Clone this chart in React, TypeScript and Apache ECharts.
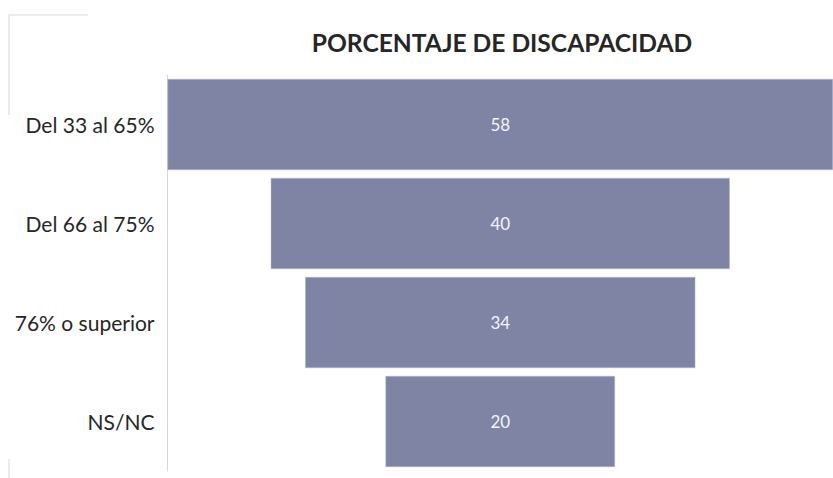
import React, { useEffect, useRef } from "react";
import * as echarts from "echarts";

const categories = ["Del 33 al 65%", "Del 66 al 75%", "76% o superior", "NS/NC"];
const values = [58, 40, 34, 20];
const maxValue = 58;
const titleText = "PORCENTAJE DE DISCAPACIDAD";

export default function App() {
  const ref = useRef<HTMLDivElement>(null);
  useEffect(() => {
    if (!ref.current) return;
    const chart = echarts.init(ref.current, undefined, { renderer: "svg" });
    const offsets = values.map((v) => (maxValue - v) / 2);
    chart.setOption({
      animation: false,
      backgroundColor: "#ffffff",
      title: {
        text: titleText,
        left: 497,
        textAlign: "center",
        top: 25,
        textStyle: { fontFamily: "Lato", fontWeight: "bold", fontSize: 24.6, color: "#262626" },
      },
      grid: { left: 167.5, right: 0, top: 75, height: 396, containLabel: false },
      xAxis: {
        type: "value",
        min: 0,
        max: maxValue,
        show: false,
      },
      yAxis: {
        type: "category",
        data: categories,
        inverse: true,
        axisLine: { show: true, lineStyle: { color: "#d9d9d9", width: 1 } },
        axisTick: { show: false },
        axisLabel: { fontFamily: "Lato", fontSize: 21, color: "#262626", margin: 13, padding: [4, 0, 0, 0] },
      },
      series: [
        {
          type: "bar",
          stack: "f",
          data: offsets,
          itemStyle: { color: "transparent" },
          barCategoryGap: "8%",
          silent: true,
        },
        {
          type: "bar",
          stack: "f",
          data: values,
          barCategoryGap: "8%",
          itemStyle: { color: "#7f84a5", borderColor: "#b6b9cc", borderWidth: 0.5 },
          label: {
            show: true,
            position: "inside",
            color: "#f4f4f8",
            fontFamily: "Lato",
            fontSize: 17,
          },
        },
      ],
      graphic: [
        { type: "line", shape: { x1: 9, y1: 15, x2: 88, y2: 15 }, style: { stroke: "#d9d9d9", lineWidth: 1 } },
        { type: "line", shape: { x1: 9, y1: 15, x2: 9, y2: 115 }, style: { stroke: "#d9d9d9", lineWidth: 1 } },
        { type: "line", shape: { x1: 9, y1: 459, x2: 9, y2: 478 }, style: { stroke: "#d9d9d9", lineWidth: 1 } },
      ],
    });
    return () => chart.dispose();
  }, []);
  return (
    <div
      ref={ref}
      style={{ position: "fixed", left: 0, top: 0, width: 833, height: 478 }}
    />
  );
}
